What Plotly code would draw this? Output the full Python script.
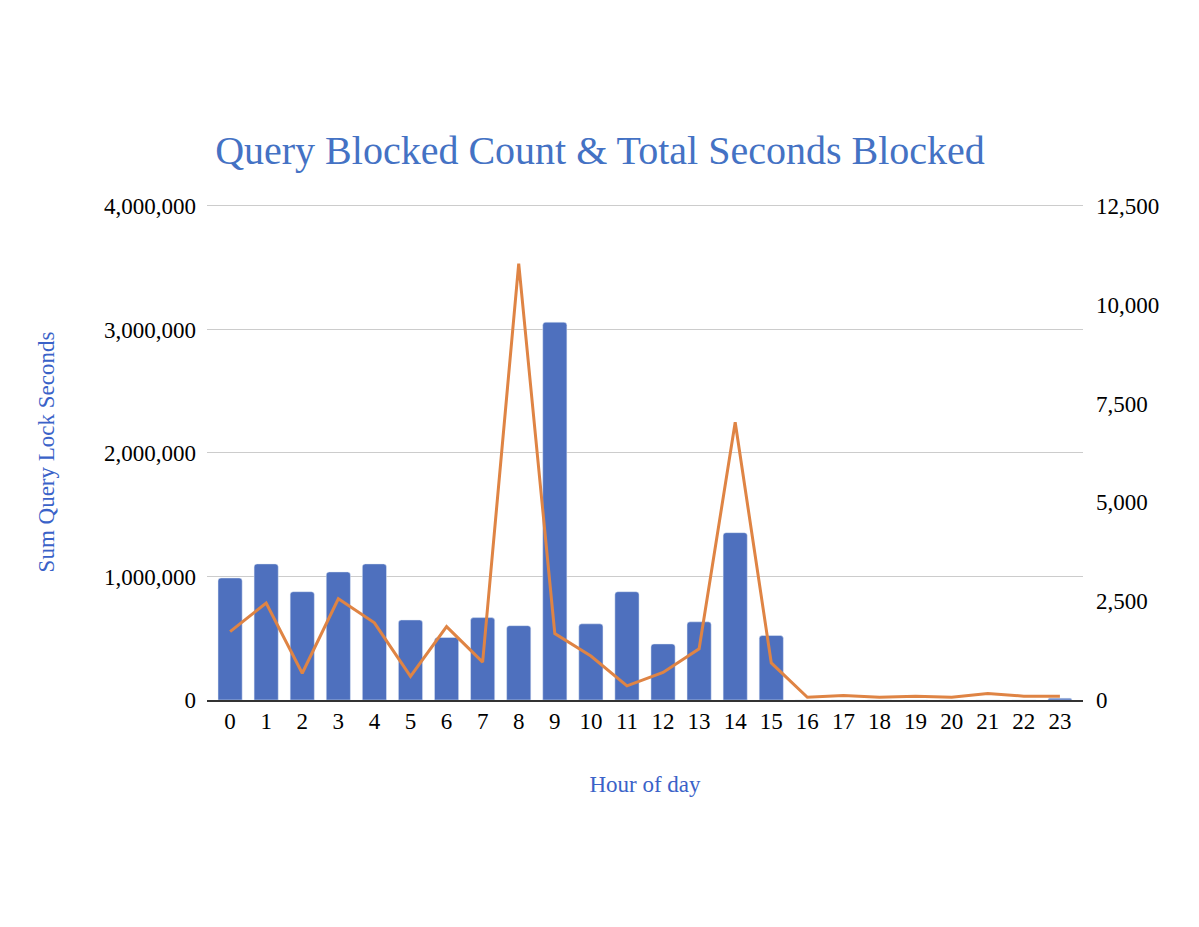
import plotly.graph_objects as go

hours = list(range(24))
hour_labels = [str(h) for h in hours]
lock_seconds = [988000, 1102000, 877000, 1037000, 1102000, 648000, 506000, 667000,
                602000, 3059000, 617000, 877000, 454000, 633000, 1355000, 522000,
                0, 0, 0, 0, 0, 0, 0, 15000]
blocked_count = [1730, 2455, 677, 2562, 1953, 599, 1856, 957,
                 11040, 1682, 1113, 358, 696, 1295, 7028, 938,
                 68, 116, 68, 97, 68, 164, 97, 97]

left_ticks = [0, 1000000, 2000000, 3000000, 4000000]
left_tick_text = ["0", "1,000,000", "2,000,000", "3,000,000", "4,000,000"]
right_ticks = [0, 2500, 5000, 7500, 10000, 12500]
right_tick_text = ["0", "2,500", "5,000", "7,500", "10,000", "12,500"]

serif = "Liberation Serif, Times New Roman, serif"
blue_text = "#4472C4"
pad = 1.004

fig = go.Figure()
fig.add_trace(go.Bar(x=hours, y=lock_seconds, marker_color="#4E70BE",
                     name="Sum Query Lock Seconds", yaxis="y"))
fig.add_trace(go.Scatter(x=hours, y=blocked_count, mode="lines",
                         line=dict(color="#DF8444", width=3),
                         name="Query Blocked Count", yaxis="y2"))

fig.update_layout(
    width=1199, height=927,
    paper_bgcolor="white", plot_bgcolor="white",
    showlegend=False,
    bargap=0.33,
    barcornerradius=3,
    margin=dict(l=199, r=124, t=196, b=235),
    title=dict(text="Query Blocked Count & Total Seconds Blocked",
               font=dict(family=serif, size=40, color=blue_text),
               x=(600 - 8) / 1199, xanchor="center", y=1 - 142 / 927, yanchor="middle"),
    font=dict(family=serif, size=23, color="#000000"),
    xaxis=dict(
        tickmode="array", tickvals=hours, ticktext=hour_labels,
        range=[-0.64, 23.64],
        showgrid=False, showline=True, linecolor="#333333", linewidth=1.5,
        ticks="", zeroline=False,
        title=dict(text="Hour of day", font=dict(family=serif, size=23, color="#3A62C8"),
                   standoff=43),
    ),
    yaxis=dict(
        range=[0, 4000000 * pad], tickmode="array", tickvals=left_ticks, ticktext=left_tick_text,
        showgrid=True, gridcolor="#CCCCCC", gridwidth=1.2, zeroline=False,
        ticks="", ticklabelstandoff=10,
        title=dict(text="Sum Query Lock Seconds", font=dict(family=serif, size=23, color="#3A62C8"),
                   standoff=42),
    ),
    yaxis2=dict(
        range=[0, 12500 * pad], tickmode="array", tickvals=right_ticks, ticktext=right_tick_text,
        overlaying="y", side="right", showgrid=False, zeroline=False,
        ticks="", ticklabelstandoff=12,
    ),
)

fig.write_html("out.html")
